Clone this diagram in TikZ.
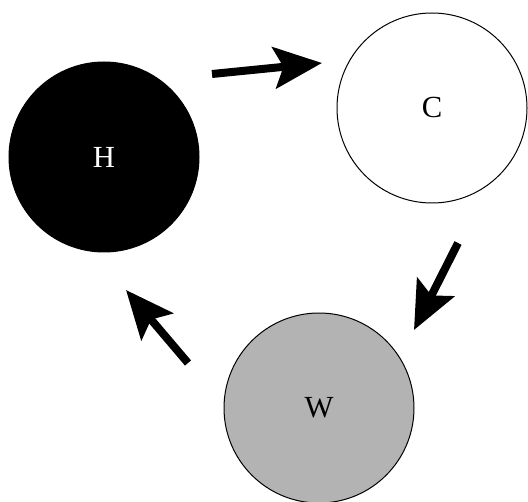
\documentclass[tikz,border=0pt]{standalone}
\usepackage{fontspec}
\setmainfont{Liberation Serif}
\usetikzlibrary{arrows.meta}

\tikzset{
  phase/.style={circle, draw=black, line width=0.75, minimum size=190*0.75pt, inner sep=0pt, font=\fontsize{23}{26}\selectfont},
  flow/.style={line width=6pt, -{Stealth[length=36pt, width=31pt, inset=7pt]}}
}

\begin{document}
\begin{tikzpicture}[x=0.75pt,y=0.75pt,yscale=-1,xscale=1]
\useasboundingbox (0,0) rectangle (528,502);

% Circle Nodes
\node [phase, fill=black, text=white] (hot) at (104,157) {H};
\node [phase, fill=white] (cold) at (432,108) {C};
\node [phase, fill={rgb,255:red,179;green,179;blue,179}] (warm) at (319,408) {W};

% Arrow ends
\coordinate (hc1) at (212,74);
\coordinate (hc2) at (322,63);
\coordinate (cw1) at (458,243);
\coordinate (cw2) at (414,330);
\coordinate (wh1) at (188,363);
\coordinate (wh2) at (126,290);

% Connections
\draw [flow] (hc1) -- (hc2);
\draw [flow] (cw1) -- (cw2);
\draw [flow] (wh1) -- (wh2);

\end{tikzpicture}
\end{document}
